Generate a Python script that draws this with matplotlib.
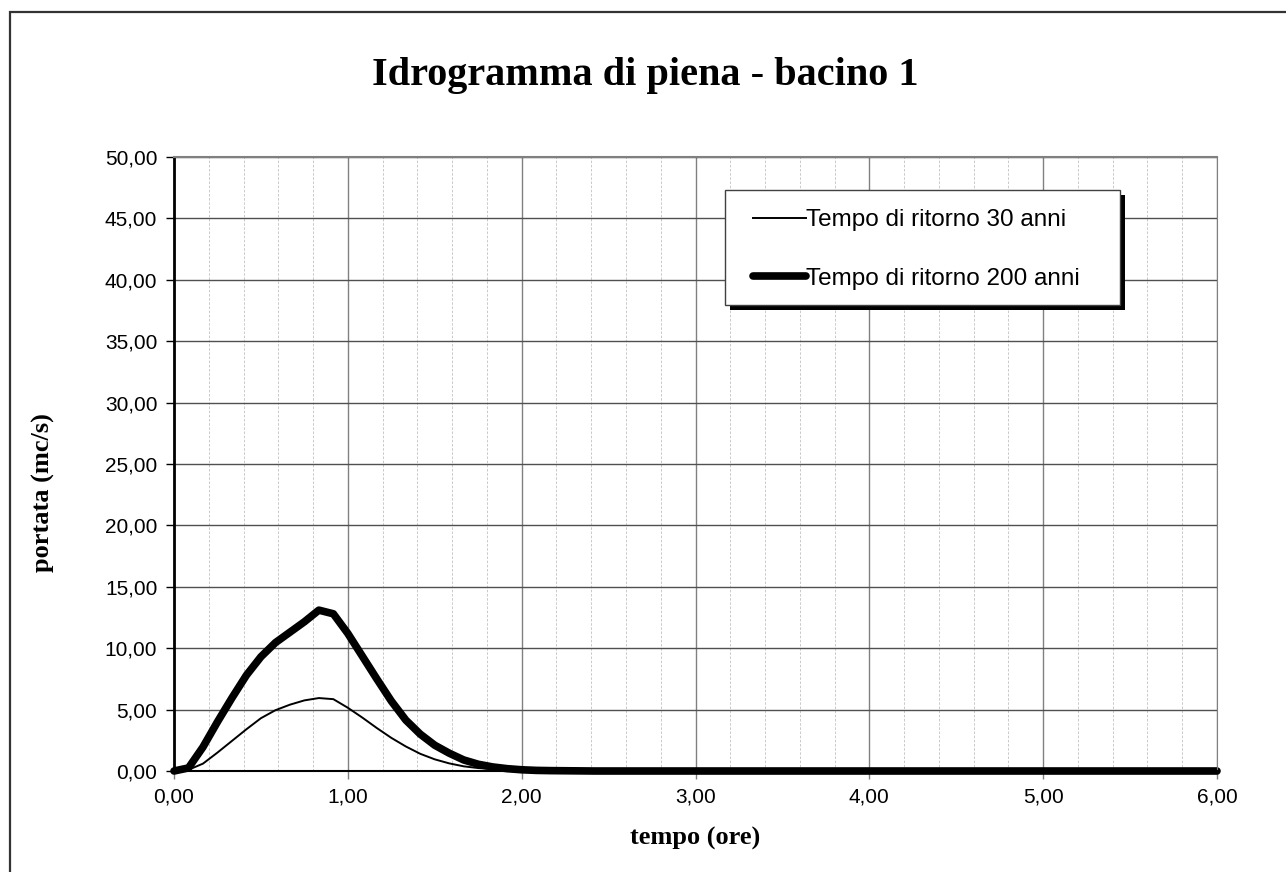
import numpy as np
import matplotlib.pyplot as plt
from matplotlib.ticker import MultipleLocator, FuncFormatter
from matplotlib.patches import Rectangle

# --- Dati idrogramma (passo 5 minuti) ---
tempo = np.arange(73) / 12.0  # ore, 0 -> 6

q30 = [0.00, 0.10, 0.60, 1.50, 2.45, 3.40, 4.30, 4.95, 5.40, 5.75,
       5.94, 5.85, 5.15, 4.35, 3.50, 2.70, 2.00, 1.40, 0.95, 0.62,
       0.38, 0.24, 0.15, 0.09, 0.05, 0.03, 0.02, 0.01] + [0.0] * 45

q200 = [0.00, 0.25, 1.95, 4.00, 5.95, 7.80, 9.30, 10.45, 11.30, 12.15,
        13.10, 12.80, 11.20, 9.35, 7.50, 5.70, 4.15, 3.00, 2.10, 1.45,
        0.90, 0.55, 0.33, 0.19, 0.10, 0.05, 0.03, 0.02, 0.01] + [0.0] * 44

etichette = ["Tempo di ritorno 30 anni", "Tempo di ritorno 200 anni"]

W, H = 1286, 872
fig = plt.figure(figsize=(W/100, H/100), dpi=100)
ax = fig.add_axes([174/W, 1-771/H, (1217-174)/W, (771-157)/H])

# cornice esterna del grafico
fig.patches.append(Rectangle((10/W, -0.1), 1.2, 1.1 - 12/H, transform=fig.transFigure,
                             fill=False, edgecolor='#333333', linewidth=1.6, zorder=0))

# griglia
ax.set_xlim(0, 6)
ax.set_ylim(0, 50)
ax.xaxis.set_major_locator(MultipleLocator(1))
ax.xaxis.set_minor_locator(MultipleLocator(0.2))
ax.yaxis.set_major_locator(MultipleLocator(5))
ax.grid(axis='x', which='minor', color='#c0c0c0', linestyle=(0, (3, 2)), linewidth=0.6)
ax.grid(axis='x', which='major', color='#808080', linestyle='-', linewidth=1.0)
ax.grid(axis='y', which='major', color='#505050', linestyle='-', linewidth=1.0)
ax.set_axisbelow(True)

fmt = FuncFormatter(lambda v, p: f"{v:.2f}".replace('.', ','))
ax.xaxis.set_major_formatter(fmt)
ax.yaxis.set_major_formatter(fmt)
ax.tick_params(axis='both', which='major', direction='out', length=6, width=1,
               labelsize=15, pad=6)
ax.tick_params(axis='x', which='major', color='#808080')
ax.tick_params(axis='x', which='minor', length=0)
for lab in ax.get_xticklabels() + ax.get_yticklabels():
    lab.set_fontfamily('Liberation Sans')

ax.spines['left'].set_linewidth(2)
ax.spines['left'].set_color('black')
ax.spines['bottom'].set_linewidth(1.5)
ax.spines['top'].set_color('#808080')
ax.spines['top'].set_linewidth(1.5)
ax.spines['right'].set_color('#808080')

# curve
ax.plot(tempo, q30, color='black', linewidth=1.4, label=etichette[0], clip_on=False)
ax.plot(tempo, q200, color='black', linewidth=5.5, solid_capstyle='round',
        label=etichette[1], clip_on=False)

# riquadro della legenda con ombra
ax.add_patch(Rectangle((730/W, 1-310/H), 395/W, 115/H, transform=fig.transFigure,
                       facecolor='black', edgecolor='none', zorder=5, clip_on=False))
ax.add_patch(Rectangle((725/W, 1-305/H), 395/W, 115/H, transform=fig.transFigure,
                       facecolor='white', edgecolor='#404040', linewidth=1.0, zorder=6,
                       clip_on=False))

leg = ax.legend(loc='upper left', bbox_to_anchor=(753/W, 1-209/H),
                bbox_transform=fig.transFigure,
                prop={'family': 'Liberation Sans', 'size': 17.5},
                frameon=False, handlelength=2.2, handletextpad=0.0,
                labelspacing=1.52, borderpad=0, borderaxespad=0)
leg.set_zorder(7)

fig.text(645/W, 1-75/H, "Idrogramma di piena - bacino 1", ha='center', va='center',
         fontfamily='Liberation Serif', fontweight='bold', fontsize=29)
fig.text(695/W, 1-838/H, "tempo (ore)", ha='center', va='center',
         fontfamily='Liberation Serif', fontweight='bold', fontsize=19)
fig.text(43/W, 1-493/H, "portata (mc/s)", ha='center', va='center', rotation=90,
         fontfamily='Liberation Serif', fontweight='bold', fontsize=19)

fig.savefig("out.png", dpi=100, facecolor='white')
